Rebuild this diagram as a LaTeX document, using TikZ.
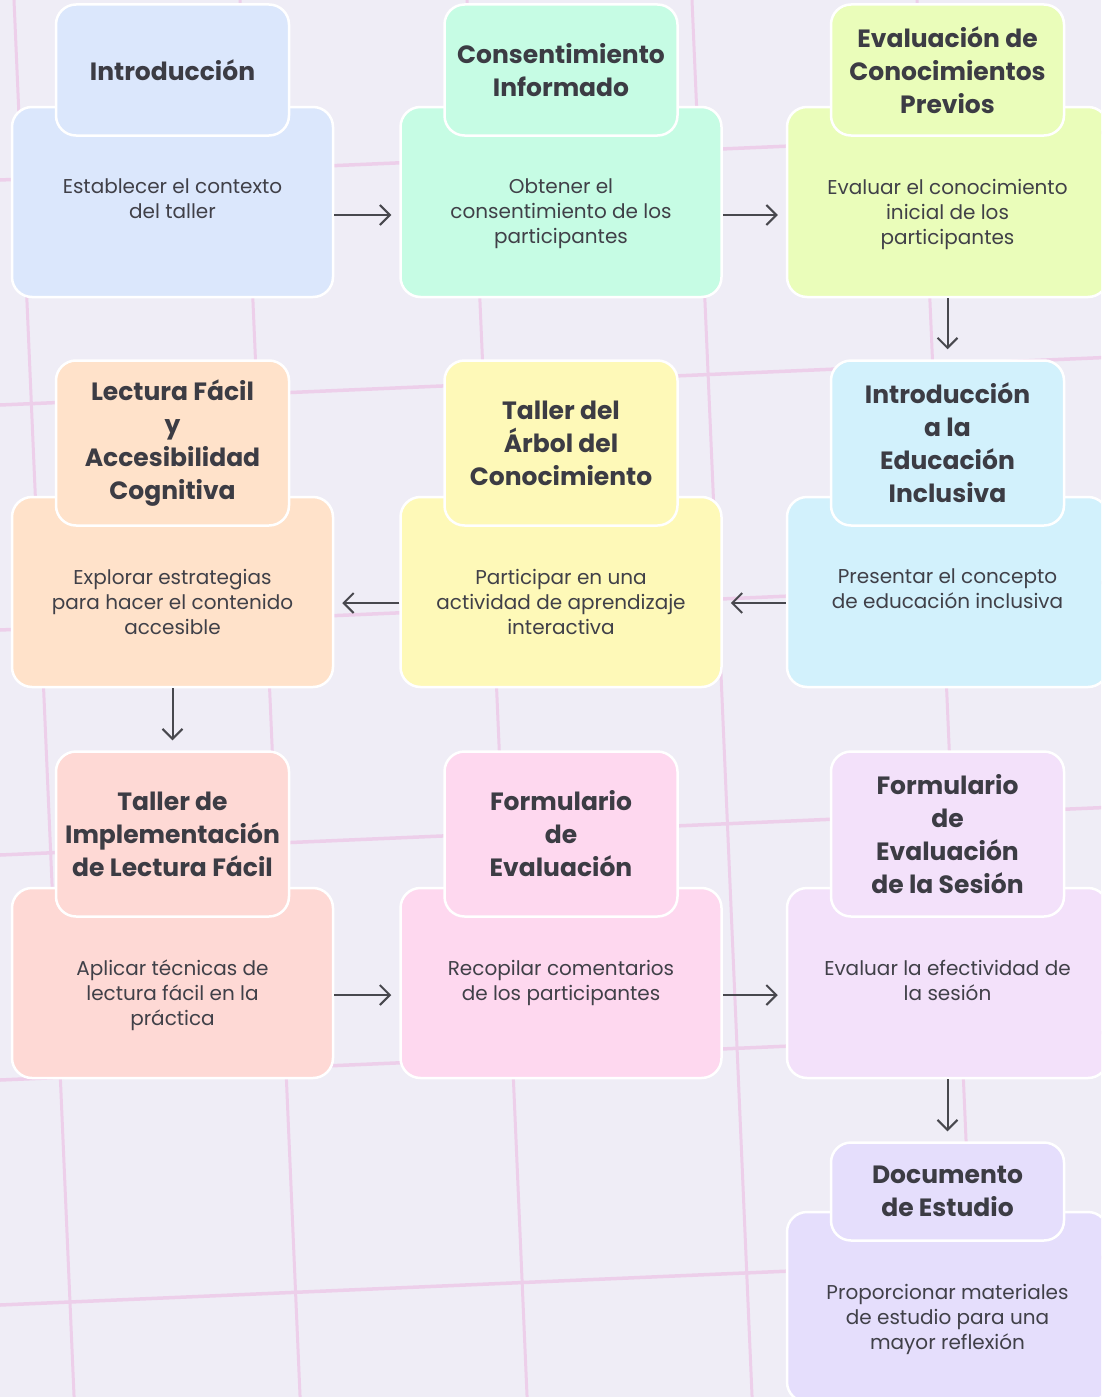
\documentclass[tikz,border=0pt]{standalone}
\usepackage{fontspec}
\usepackage{tikz}
\usetikzlibrary{arrows.meta}
\newfontfamily\titlefont{Poppins}
\newfontfamily\bodyfont{Poppins}

\definecolor{bgcol}{HTML}{EFEDF6}
\definecolor{gridpink}{HTML}{EDCFEA}
\definecolor{titlegray}{HTML}{3C3C44}
\definecolor{textgray}{HTML}{404048}
\definecolor{arrowgray}{HTML}{48484E}
\definecolor{introcol}{HTML}{DBE7FC}
\definecolor{consentcol}{HTML}{C6FCE4}
\definecolor{evalcol}{HTML}{EAFDBA}
\definecolor{lectcol}{HTML}{FFE2CA}
\definecolor{arbolcol}{HTML}{FEF9B8}
\definecolor{inclcol}{HTML}{D2F1FC}
\definecolor{implcol}{HTML}{FED9D5}
\definecolor{formcol}{HTML}{FED8EF}
\definecolor{sesioncol}{HTML}{F3E1FA}
\definecolor{doccol}{HTML}{E5DEFC}

\tikzset{
	descbox/.style={draw=white, line width=2.5pt, rounded corners=20pt, minimum width=321pt, minimum height=190pt},
	titlebox/.style={draw=white, line width=2.5pt, rounded corners=20pt, minimum width=233pt, inner sep=0pt, align=center, text=titlegray, font=\titlefont\bfseries\fontsize{25}{33}\selectfont},
	desctext/.style={inner sep=0pt, align=center, text=textgray, font=\bodyfont\fontsize{20}{25}\selectfont},
	flow/.style={draw=arrowgray, line width=2pt, -{Straight Barb[length=10pt,width=20pt]}, shorten >=8pt},
	gridline/.style={draw=gridpink, line width=3pt},
}

% lower box, title box on top of it, text of the lower box
\def\etapa(#1)(#2,#3)[#4][#5]#6#7{%
	\node[descbox, fill=#4] (#1) at (#2,#3) {};
	\node[titlebox, fill=#4, minimum height=#5, anchor=south] (#1T) at ([yshift=-31pt]#1.north) {#6};
	\node[desctext, anchor=north] (#1D) at ([yshift=-73pt]#1.north) {#7};
}

\begin{document}
\begin{tikzpicture}[x=1pt, y=-1pt]
		%%%%% START %%%%%
		
		\useasboundingbox (0, 0) rectangle (1101, 1397);
		\clip (0, 0) rectangle (1101, 1397);
		\fill[bgcol] (0, 0) rectangle (1101, 1397);
		
		% tilted grid
		\draw[gridline] (9.7, -100) -- (78.5, 1500);
		\draw[gridline] (235.7, -100) -- (304.5, 1500);
		\draw[gridline] (462.7, -100) -- (531.5, 1500);
		\draw[gridline] (687.7, -100) -- (756.5, 1500);
		\draw[gridline] (912.7, -100) -- (981.5, 1500);
		
		\draw[gridline, line width=3.5pt] (-100, 184.3) -- (1200, 128.4);
		\draw[gridline, line width=3.5pt] (-100, 409.3) -- (1200, 353.4);
		\draw[gridline, line width=3.5pt] (-100, 634.3) -- (1200, 578.4);
		\draw[gridline, line width=3.5pt] (-100, 859.3) -- (1200, 803.4);
		\draw[gridline, line width=3.5pt] (-100, 1084.3) -- (1200, 1028.4);
		\draw[gridline, line width=3.5pt] (-100, 1309.3) -- (1200, 1253.4);
		
		% row 1
		\etapa(intro)(172.5, 202)[introcol][131pt]{Introducción}{Establecer el contexto\\del taller}
		\etapa(consent)(561, 202)[consentcol][131pt]{Consentimiento\\Informado}{Obtener el\\consentimiento de los\\participantes}
		\etapa(evalprev)(947.5, 202)[evalcol][131pt]{Evaluación de\\Conocimientos\\Previos}{Evaluar el conocimiento\\inicial de los\\participantes}
		
		% row 2
		\etapa(lectura)(172.5, 592)[lectcol][165pt]{Lectura Fácil\\y\\Accesibilidad\\Cognitiva}{Explorar estrategias\\para hacer el contenido\\accesible}
		\etapa(arbol)(561, 592)[arbolcol][165pt]{Taller del\\Árbol del\\Conocimiento}{Participar en una\\actividad de aprendizaje\\interactiva}
		\etapa(inclusiva)(947.5, 592)[inclcol][165pt]{Introducción\\a la\\Educación\\Inclusiva}{Presentar el concepto\\de educación inclusiva}
		
		% row 3
		\etapa(impl)(172.5, 983)[implcol][165pt]{Taller de\\Implementación\\de Lectura Fácil}{Aplicar técnicas de\\lectura fácil en la\\práctica}
		\etapa(formeval)(561, 983)[formcol][165pt]{Formulario\\de\\Evaluación}{Recopilar comentarios\\de los participantes}
		\etapa(sesion)(947.5, 983)[sesioncol][165pt]{Formulario\\de\\Evaluación\\de la Sesión}{Evaluar la efectividad de\\la sesión}
		
		% row 4
		\etapa(docest)(947.5, 1307)[doccol][98pt]{Documento\\de Estudio}{Proporcionar materiales\\de estudio para una\\mayor reflexión}
		
		% arrows
		\draw[flow] ([yshift=-13pt]intro.east) -- ([yshift=-13pt]consent.west);
		\draw[flow] ([yshift=-13pt]consent.east) -- ([yshift=-13pt]evalprev.west);
		\draw[flow, shorten >=10pt] (evalprev.south) -- (inclusivaT.north);
		\draw[flow] ([yshift=-11pt]inclusiva.west) -- ([yshift=-11pt]arbol.east);
		\draw[flow] ([yshift=-11pt]arbol.west) -- ([yshift=-11pt]lectura.east);
		\draw[flow, shorten >=10pt] (lectura.south) -- (implT.north);
		\draw[flow] ([yshift=-12pt]impl.east) -- ([yshift=-12pt]formeval.west);
		\draw[flow] ([yshift=-12pt]formeval.east) -- ([yshift=-12pt]sesion.west);
		\draw[flow, shorten >=10pt] (sesion.south) -- (docestT.north);
		
		%%%%% END %%%%%
\end{tikzpicture}
\end{document}
